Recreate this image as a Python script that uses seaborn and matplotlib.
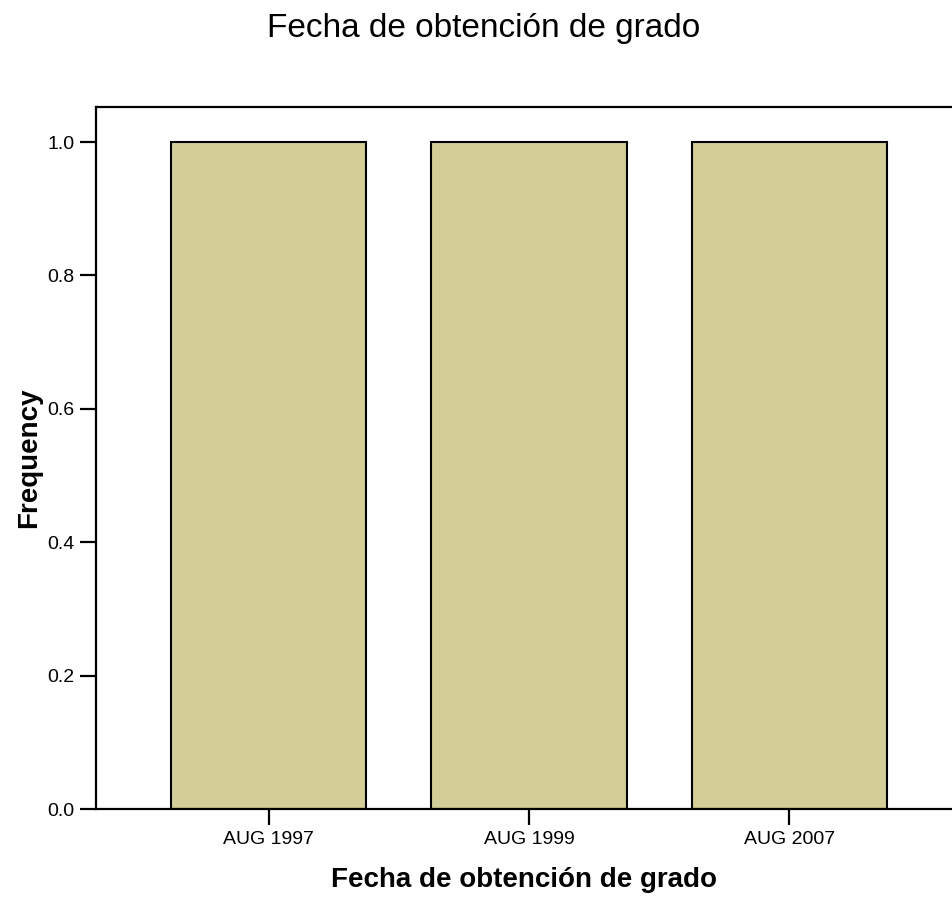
import pandas as pd
import matplotlib
matplotlib.use("Agg")
import matplotlib.pyplot as plt
import seaborn as sns

# datos
categorias = ['AUG 1997', 'AUG 1999', 'AUG 2007']
frecuencias = [1, 1, 1]

sns.set_style('white')
plt.rcParams['font.family'] = ['Liberation Sans', 'DejaVu Sans']

df = pd.DataFrame({'fecha': categorias, 'freq': frecuencias})

fig = plt.figure(figsize=(9.53, 8.98), dpi=100)
ax = fig.add_axes([0.1007, 0.0991, 0.8973, 0.7817])

sns.barplot(data=df, x='fecha', y='freq', color='#D3CE98', saturation=1,
            edgecolor='black', linewidth=1.5, width=0.75, ax=ax)

ax.set_ylim(0, 1.0525)
ax.set_xlim(-0.665, 2.623)
ax.set_yticks([0.0, 0.2, 0.4, 0.6, 0.8, 1.0])
ax.set_yticklabels(['0.0', '0.2', '0.4', '0.6', '0.8', '1.0'])

for s in ['left', 'top', 'bottom']:
    ax.spines[s].set_linewidth(1.6)
    ax.spines[s].set_color('black')
ax.spines['right'].set_visible(False)

ax.tick_params(axis='both', direction='out', length=11.5, width=1.6,
               labelsize=14, color='black', labelcolor='black', pad=4,
               left=True, bottom=True)

ax.set_xlabel('Fecha de obtención de grado', fontsize=20, fontweight='bold',
              color='black', labelpad=14)
ax.set_ylabel('Frequency', fontsize=20, fontweight='bold', color='black', labelpad=4)
fig.suptitle('Fecha de obtención de grado', fontsize=24, color='black',
             x=0.508, y=0.985)

fig.savefig('out.png', dpi=100)
